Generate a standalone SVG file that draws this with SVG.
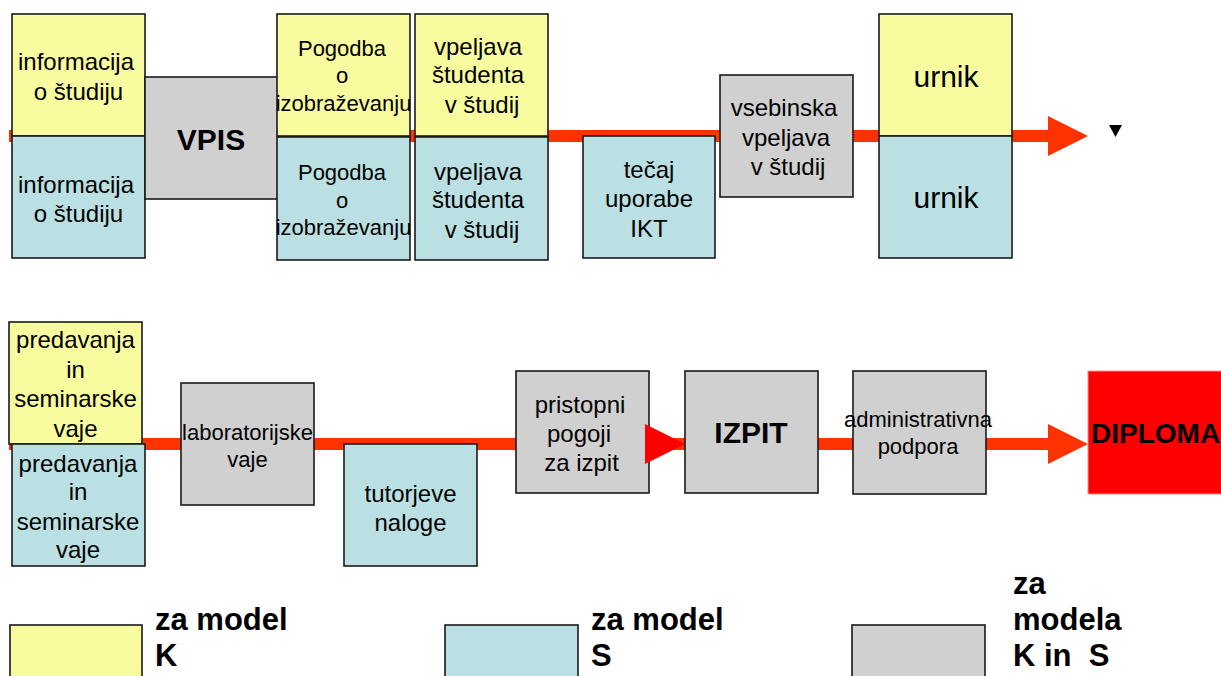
<svg xmlns="http://www.w3.org/2000/svg" width="1221" height="676" viewBox="0 0 1221 676">
<style>
  .y { fill: #F9FB9F; stroke: #1a1a1a; stroke-width: 1.6; }
  .b { fill: #BAE0E3; stroke: #1a1a1a; stroke-width: 1.6; }
  .g { fill: #D0D0D0; stroke: #1a1a1a; stroke-width: 1.6; }
  .r { fill: #FF0000; stroke: #FF8C8C; stroke-width: 1; }
  text { font-family: "Liberation Sans", Arial, sans-serif; fill: #000; text-anchor: middle; }
  .t24 { font-size: 24px; }
  .t22 { font-size: 22px; }
  .t28 { font-size: 30px; }
  .bold { font-weight: bold; font-size: 30px; }
  .leg { font-weight: bold; font-size: 31px; text-anchor: start; }
  .line { fill: #FF3300; }
</style>
<g id="connectors">
  <rect class="line" x="9" y="130" width="1040" height="12"/>
  <polygon class="line" points="1048,116 1088,136 1048,156"/>
  <rect class="line" x="9" y="438" width="1040" height="12"/>
  <polygon class="line" points="1048,424 1088,444 1048,464"/>
</g>
<g id="info-K"><rect class="y" x="12" y="14" width="133" height="122"/>
  <text class="t24" x="76" y="70">informacija</text><text class="t24" x="78.5" y="100">o študiju</text></g>
<g id="info-S"><rect class="b" x="12" y="136" width="133" height="122"/>
  <text class="t24" x="76" y="193">informacija</text><text class="t24" x="78.5" y="222">o študiju</text></g>
<g id="vpis"><rect class="g" x="145" y="77" width="133" height="122"/>
  <text class="bold" x="211" y="150">VPIS</text></g>
<g id="pogodba-K"><rect class="y" x="277" y="14" width="133" height="122"/>
  <text class="t22" x="342" y="56">Pogodba</text><text class="t22" x="342" y="83">o</text><text class="t22" x="343.5" y="111">izobraževanju</text></g>
<g id="pogodba-S"><rect class="b" x="277" y="137" width="133" height="123"/>
  <text class="t22" x="342" y="180">Pogodba</text><text class="t22" x="342" y="208">o</text><text class="t22" x="343.5" y="235">izobraževanju</text></g>
<g id="vpeljava-K"><rect class="y" x="415" y="14" width="133" height="122"/>
  <text class="t24" x="478" y="55">vpeljava</text><text class="t24" x="478" y="83">študenta</text><text class="t24" x="482" y="113">v študij</text></g>
<g id="vpeljava-S"><rect class="b" x="415" y="137" width="133" height="123"/>
  <text class="t24" x="478" y="180">vpeljava</text><text class="t24" x="478" y="208">študenta</text><text class="t24" x="482" y="238">v študij</text></g>
<g id="tecaj"><rect class="b" x="583" y="136" width="132" height="122"/>
  <text class="t24" x="649" y="178">tečaj</text><text class="t24" x="649" y="207">uporabe</text><text class="t24" x="649" y="237">IKT</text></g>
<g id="vsebinska"><rect class="g" x="720" y="75" width="133" height="122"/>
  <text class="t24" x="784" y="116">vsebinska</text><text class="t24" x="786" y="146">vpeljava</text><text class="t24" x="788" y="175">v študij</text></g>
<g id="urnik-K"><rect class="y" x="879" y="14" width="133" height="122"/>
  <text class="t28" x="946" y="87">urnik</text></g>
<g id="urnik-S"><rect class="b" x="879" y="136" width="133" height="122"/>
  <text class="t28" x="946" y="208">urnik</text></g>
<g id="marker-small"><polygon points="1109,125 1122,125 1115.5,137" fill="#000"/></g>
<g id="predavanja-K"><rect class="y" x="9" y="322" width="133" height="122"/>
  <text class="t24" x="75.5" y="348">predavanja</text><text class="t24" x="75.5" y="378">in</text><text class="t24" x="75.5" y="407">seminarske</text><text class="t24" x="75.5" y="437">vaje</text></g>
<g id="predavanja-S"><rect class="b" x="12" y="444" width="133" height="122"/>
  <text class="t24" x="78" y="472">predavanja</text><text class="t24" x="78" y="500">in</text><text class="t24" x="78" y="530">seminarske</text><text class="t24" x="78" y="558">vaje</text></g>
<g id="laboratorijske"><rect class="g" x="181" y="383" width="133" height="122"/>
  <text class="t22" x="247.5" y="440">laboratorijske</text><text class="t22" x="247.5" y="467">vaje</text></g>
<g id="tutorjeve"><rect class="b" x="344" y="444" width="133" height="122"/>
  <text class="t24" x="410.5" y="502">tutorjeve</text><text class="t24" x="410.5" y="531">naloge</text></g>
<g id="pristopni"><rect class="g" x="516" y="371" width="133" height="122"/>
  <text class="t24" x="580" y="413">pristopni</text><text class="t24" x="579" y="442">pogoji</text><text class="t24" x="581.5" y="471">za izpit</text></g>
<g id="izpit"><rect class="g" x="685" y="371" width="133" height="122"/>
  <text class="bold" x="751" y="443">IZPIT</text></g>
<g id="administrativna"><rect class="g" x="853" y="371" width="133" height="123"/>
  <text class="t22" x="918" y="427">administrativna</text><text class="t22" x="918" y="454">podpora</text></g>
<g id="diploma"><rect class="r" x="1088" y="371" width="140" height="123"/>
  <text class="bold" style="font-size:28px;text-anchor:start" x="1091" y="443">DIPLOMA</text></g>
<g id="connector-heads">
  <polygon points="645,424 685,444 645,464" fill="#FF0000"/>
</g>
<g id="legend-K"><rect class="y" x="10" y="625" width="132" height="60"/>
  <text class="leg" x="155" y="630">za model</text><text class="leg" x="155" y="666">K</text></g>
<g id="legend-S"><rect class="b" x="445" y="625" width="133" height="60"/>
  <text class="leg" x="591" y="630">za model</text><text class="leg" x="591" y="666">S</text></g>
<g id="legend-KS"><rect class="g" x="852" y="625" width="133" height="60"/>
  <text class="leg" x="1013" y="594">za</text><text class="leg" x="1013" y="630">modela</text><text class="leg" x="1013" y="666" xml:space="preserve">K in  S</text></g>
</svg>
